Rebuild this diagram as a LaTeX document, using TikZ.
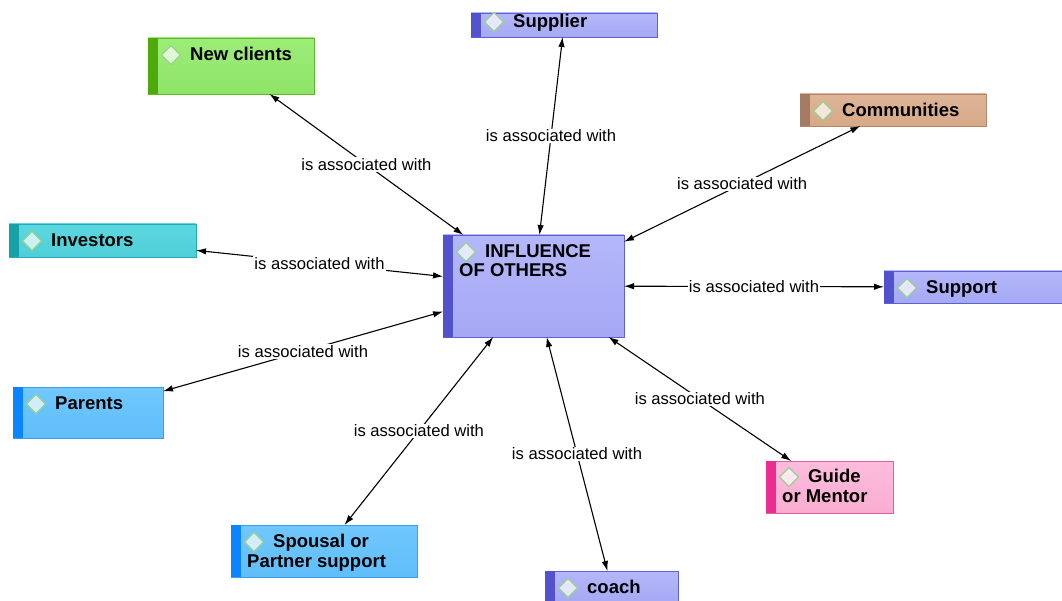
\documentclass[tikz,border=0pt]{standalone}
\usepackage{fontspec}
\setmainfont{Liberation Sans}
\usetikzlibrary{arrows.meta}

% concept palettes: fill top / fill bottom / border / side bar
\definecolor{periTop}{HTML}{B4B7FA}\definecolor{periBot}{HTML}{A5A9F4}
\definecolor{periBorder}{HTML}{5F5FD6}\definecolor{periBar}{HTML}{5252CC}
\definecolor{greenTop}{HTML}{9DEC79}\definecolor{greenBot}{HTML}{8DE467}
\definecolor{greenBorder}{HTML}{5CB82A}\definecolor{greenBar}{HTML}{4DAA0A}
\definecolor{tanTop}{HTML}{DEB597}\definecolor{tanBot}{HTML}{D6A988}
\definecolor{tanBorder}{HTML}{B4866A}\definecolor{tanBar}{HTML}{A57A64}
\definecolor{tealTop}{HTML}{5CD7DF}\definecolor{tealBot}{HTML}{4ECFD8}
\definecolor{tealBorder}{HTML}{22AEB8}\definecolor{tealBar}{HTML}{16A0A8}
\definecolor{skyTop}{HTML}{70C7FC}\definecolor{skyBot}{HTML}{60BEFA}
\definecolor{skyBorder}{HTML}{3A9EEA}\definecolor{skyBar}{HTML}{0A84FF}
\definecolor{pinkTop}{HTML}{FDBCDC}\definecolor{pinkBot}{HTML}{FAADD2}
\definecolor{pinkBorder}{HTML}{E0609F}\definecolor{pinkBar}{HTML}{EC2C90}
\definecolor{dmdBorder}{HTML}{98D28C}

\tikzset{
  x=1pt, y=-1pt,
  box/.style={draw=#1Border, top color=#1Top, bottom color=#1Bot,
    line width=0.8pt, rectangle, inner sep=0pt, outer sep=0pt},
  dmd/.style={draw=dmdBorder, line width=1.3pt, fill=white, fill opacity=0.7,
    draw opacity=1, line join=round},
  ctext/.style={anchor=base west, inner sep=0pt,
    font=\fontsize{18.5}{20}\selectfont\bfseries},
  link/.style={line width=1.1pt, {Latex[length=10pt,width=6.5pt]}-{Latex[length=10pt,width=6.5pt]}},
  lab/.style={midway, fill=white, inner sep=1.2pt,
    font=\fontsize{16.6}{18}\selectfont},
}

% \mkconcept[baseline offset]{name}{palette}{x1}{y1}{x2}{y2}{first line}{second line}
\newcommand\mkconcept[9][22.5]{%
  \node[box=#3, minimum width={#6-#4}, minimum height={#7-#5}]
    (#2) at ({(#4+#6)/2},{(#5+#7)/2}) {};
  \fill[#3Bar] (#2.north west) rectangle ([xshift=10pt]#2.south west);
  \coordinate (#2-d) at ([xshift=23pt,yshift={-(#1-5.5)*1pt}]#2.north west);
  \path[dmd] ([xshift=-9.5pt]#2-d) -- ([yshift=9.5pt]#2-d)
    -- ([xshift=9.5pt]#2-d) -- ([yshift=-9.5pt]#2-d) -- cycle;
  \node[ctext] (#2-t) at ([xshift=42pt,yshift={-#1*1pt}]#2.north west) {#8};
  \if\relax\detokenize{#9}\relax\else
    \node[ctext] (#2-u) at ([xshift=16pt,yshift={-(#1+19.5)*1pt}]#2.north west) {#9};
  \fi
}

\begin{document}
\begin{tikzpicture}
\useasboundingbox (0,0) rectangle (1062,601);
\clip (0,0) rectangle (1062,601);

\mkconcept{inf}{peri}{443}{235}{624}{337}{INFLUENCE}{OF OTHERS}
\mkconcept{nc}{green}{148}{38}{314}{94}{New clients}{}
\mkconcept[14.5]{sup}{peri}{471}{13}{657}{37}{Supplier}{}
\mkconcept{com}{tan}{800}{94}{986}{126}{Communities}{}
\mkconcept{inv}{teal}{9}{224}{196}{257}{Investors}{}
\mkconcept{spt}{peri}{884}{271}{1062}{303}{Support}{}
\mkconcept{par}{sky}{13}{387}{163}{438}{Parents}{}
\mkconcept[21.5]{gui}{pink}{766}{461}{893}{513}{Guide}{or Mentor}
\mkconcept{spo}{sky}{231}{525}{417}{577}{Spousal or}{Partner support}
\mkconcept{coa}{peri}{545}{571}{678}{603}{coach}{}

\draw[link] (inf) -- node[lab]{is associated with} (nc);
\draw[link] (inf) -- node[lab]{is associated with} (sup);
\draw[link] (inf) -- node[lab]{is associated with} (com);
\draw[link] (inf) -- node[lab]{is associated with} (inv);
\draw[link] (inf) -- node[lab]{is associated with} (spt);
\draw[link] (inf) -- node[lab]{is associated with} (par);
\draw[link] (inf) -- node[lab]{is associated with} (gui);
\draw[link] (inf) -- node[lab]{is associated with} (spo);
\draw[link] (inf) -- node[lab]{is associated with} (coa);
\end{tikzpicture}
\end{document}
